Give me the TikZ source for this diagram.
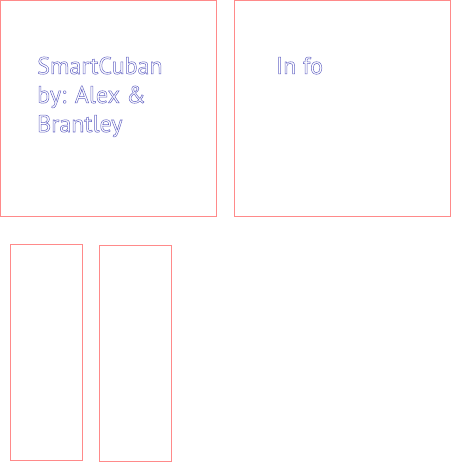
\documentclass[tikz,border=0pt]{standalone}
\usepackage{fontspec}
\setmainfont{PT Sans}
\definecolor{boxred}{HTML}{FF8A8A}
\definecolor{txtblue}{HTML}{6666C4}
\newcommand{\outl}[1]{\special{pdf:literal direct 0.5 w 1 Tr}#1\special{pdf:literal direct 0 Tr}}
\begin{document}
\begin{tikzpicture}[x=1pt,y=-1pt,
  panel/.style={draw=boxred,line width=1pt,inner sep=0pt,outer sep=0pt},
  label/.style={text=txtblue,font=\fontsize{24}{29}\selectfont,inner sep=0pt,anchor=base west}]
\useasboundingbox (0,0) rectangle (451,462);
\node[panel,minimum width=216pt,minimum height=216pt,anchor=north west] (p1) at (0.5,0.5) {};
\node[panel,minimum width=216pt,minimum height=216pt,anchor=north west] (p2) at (234,0.5) {};
\node[panel,minimum width=72pt,minimum height=216pt,anchor=north west] (p3) at (10,244) {};
\node[panel,minimum width=72pt,minimum height=216pt,anchor=north west] (p4) at (99,245) {};
\node[label] (t1a) at (37,74) {\outl{SmartCuban}};
\node[label] (t1b) at (37,103) {\outl{by: Alex \&}};
\node[label] (t1c) at (37,132) {\outl{Brantley}};
\node[label] (t2) at (276,74) {\outl{In fo}};
\end{tikzpicture}
\end{document}
